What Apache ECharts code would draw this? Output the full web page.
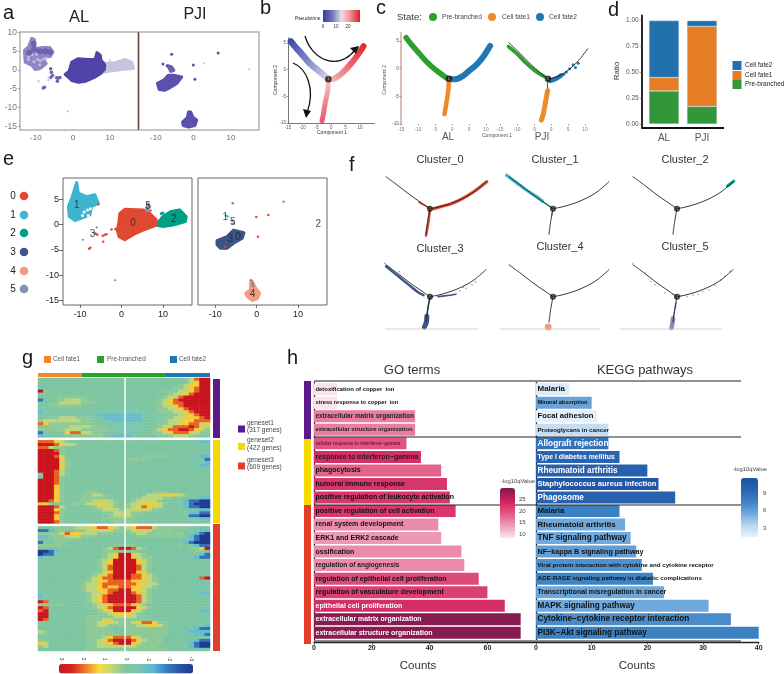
<!DOCTYPE html>
<html><head><meta charset="utf-8">
<style>html,body{margin:0;padding:0;background:#fff}#c{width:784px;height:674px}</style>
<script src="https://cdn.jsdelivr.net/npm/echarts@6/dist/echarts.min.js"></script>
</head><body><div id="c"></div>
<script>
// ---------- DATA ----------
const tickA=[-10,0,10], tickAy=[10,5,0,-5,-10,-15];
// a: UMAP regions
const alBlobCyan=[[-11.1,8.4],[-10.4,8.1],[-10.3,5.7],[-7.9,6],[-6.3,6],[-5.4,4.8],[-6.1,3.6],[-8.4,3.5],[-7.2,1.7],[-8.8,.4],[-10.2,.1],[-11.1,1.2],[-12.9,2.1],[-13.1,5.2],[-12,6.1]];
const alBlobMain=[[-.3,2.1],[1.5,3],[4.2,2.8],[6,2.8],[6.5,4.6],[7.4,3.9],[7.6,2.6],[8.6,1.4],[8.5,.1],[7.4,-1],[5.8,-2],[3.5,-3],[1.5,-3.3],[-.3,-2.8],[-2.1,-1.2],[-1,-.3]];
const alBlobLight=[[7.6,2],[9.6,1.7],[11.4,1.9],[14.1,2.8],[15.9,2.1],[16.4,.4],[13.7,.2],[10.1,-.3],[7.4,-.8]];
const alSpecks=[[-6,.3],[-5.5,-1.5],[-6,-2],[-4,-2.2],[-3.5,-2],[-4.2,-3],[-7.7,-4.6],[-8,-4.8],[-5.8,-.6],[-4.4,-2.1]];
const alFaint=[[-9.3,-3],[-6.5,-1.9],[-1.4,-11],[-6.6,-2.7],[10,2.5]];
const alHoles=[[-9.5,2.8],[-8.8,2.5],[-8,2.9],[-9,1.4],[-11,4],[-12,3.5],[-10.5,2.2],[-12,2.8],[-9.8,4.2],[-7.2,3.1]];
const alDark=[[-10.6,7],[-10.5,5.5],[-9,5],[-7.5,5],[-6.2,4.8],[-11.8,4.6]];
const pjiBlobA=[[-9.6,-3.6],[-8,-2.8],[-6.7,-1.4],[-5.3,-1.4],[-3.1,-1.9],[-4.4,-3.6],[-6.2,-4.7],[-7.6,-5.4],[-9.1,-5.2]];
const pjiBlobB=[[-6.8,1.1],[-5.8,.8],[-5.2,-.1],[-6,-.4]];
const pjiBlobC=[[-2.9,-13.9],[-1.6,-12.7],[-1.3,-11.2],[-.7,-11.2],[-.2,-12.5],[.9,-13.4],[.4,-14.8],[-1.3,-15.2],[-2.7,-14.8]];
const pjiSpecks=[[-5.8,4.2],[6.6,4.5],[0,1.3],[.4,-2.5],[-8.1,1.6],[-7,1.1]];
const pjiFaint=[[2.9,1.8],[14.9,.2]];
// b / c trajectories (Component 1, Component 2)
const bLeft=[[-14,5.3],[-12,4],[-10,2.8],[-8,1.5],[-6,.5],[-4,-.4],[-2,-1.3],[-1,-1.8]];
const bRight=[[-1,-1.8],[1,-1.7],[3,-1],[5,0],[7,1.2],[9,2.6],[10.5,3.8],[11.2,4.4]];
const bDown=[[-1,-1.8],[-1.2,-4],[-2,-6],[-2.6,-8],[-3.2,-9.6]];
const cNode=[[-.9,-1.8]];
const cGreenAL=[[-13.5,5.6],[-12,4.4],[-10,3],[-8,1.6],[-6,.4],[-4,-.6],[-2,-1.5],[-1,-1.9]];
const cBlueAL=[[-.5,-1.9],[1,-1.9],[3,-1.4],[5,-.4],[7,.6],[9,2],[10.5,3.4],[11.2,4.1]];
const cOrangeAL=[[-.9,-2],[-1.1,-4],[-1.6,-6],[-2,-7.5],[-2.2,-8.2]];
const cGreenPJI=[[-12.5,4],[-10,2.7],[-8,1.4],[-6,.3],[-4,-.7],[-2,-1.4]];
const cBluePJI=[[-.2,-2.2],[1.5,-1.8],[3,-1.2]];
const cBlueDots=[[4.5,-.6],[5.5,0],[6.5,.7],[8,1],[7.2,.2],[3.8,-1]];
const cOrangePJI=[[-1,-4],[-1.6,-6],[-2.2,-8],[-2.8,-9.3]];
const curvePJI=[[-12.4,4.7],[-9,2.7],[-6,.8],[-3,-.8],[-1,-1.8],[2,-1.4],[5,-.3],[8,1.4],[10.8,3.6]];
const curveDownPJI=[[-1,-1.8],[-1,-3.5]];
// d
const dCats=['AL','PJI'];
const dPre=[.32,.17], dFate1=[.13,.775], dFate2=[.55,.055];
// e
const tickE=[5,0,-5,-10,-15];
const eBlob1=[[-10.8,8.3],[-10.4,6.2],[-8.4,5.5],[-6.4,5.9],[-5.6,4.2],[-7.2,3.6],[-7.6,1.9],[-9.6,1.3],[-11.2,.8],[-12.6,1.6],[-12.8,3.6],[-12,5.2]];
const eBlob0=[[-.4,2.2],[.8,3],[5.2,2.9],[6.8,2.2],[8.4,.9],[8.4,-.1],[5.2,-1.1],[2.8,-2],[.8,-3],[-.6,-2.4],[-1,-1.1],[-.6,.6]];
const eBlob2=[[8.4,-.1],[10,1.6],[12,2.6],[14,2.9],[15.6,1.6],[15.4,.6],[12.4,-.1],[10,-.4]];
const eReds=[[-2.4,-1],[-1.5,-.9],[-4.5,-2.2],[-4,-2],[-3.6,-1.9],[-6.2,-1.8],[-5.8,-2],[-7.5,-4.6],[-7.8,-4.8],[-4.4,-3.4],[-5.6,4],[6,3.3],[7,2.8]];
const eBlueDots=[[-6,-.6],[-9.3,-3],[-1.5,-11],[-6.5,-1.6]];
const eFive=[[6.3,3.3],[6.4,4],[6.2,2.8],[6.6,3.5]];
const eHoles=[[-9,2.5],[-8.2,2.9],[-9.4,1.8],[-8,1.8],[-7.5,3.1]];
const eLeftLabels=[[-10.8,3.9,'1'],[2.8,.3,'0'],[12.6,1.1,'2'],[-7,-1.9,'3'],[6.4,3.6,'5']];
const eBlob3=[[-9.6,-3.2],[-7.2,-2.4],[-5.6,-1.1],[-3.1,-1.6],[-3.5,-2.7],[-5.6,-3.7],[-7.2,-4.7],[-8.8,-4.7],[-9.6,-4]];
const eBlob4=[[-2.7,-13.6],[-1.5,-12.9],[-1.5,-11.4],[-1.1,-11.2],[-.3,-12.5],[.7,-13.6],[.1,-14.7],[-1.1,-15],[-2.3,-14.2]];
const eRedsR=[[-.1,1.5],[2.8,1.9],[.3,-2.4],[-7.6,-4.4]];
const eBlueR=[[-5.8,4.2],[-5.8,.8],[-5.6,.2],[-1.4,-11],[-1,-11.6],[-.9,-12.1]];
const eCyanR=[[-7.5,1.8],[-7,1.6],[6.5,4.5]];
const eRightLabels=[[-7.6,1.5,'1'],[-5.8,.4,'5'],[-6.4,-3,'3'],[-4.5,-2.6,'0'],[-1,-13.8,'4'],[14.9,0,'2']];
// f
const fCurveLeft=[[-12,4.7],[-9,2.9],[-6,1],[-3,-.7],[-1,-1.8]];
const fCurveRight=[[-1,-1.8],[1,-1.5],[4,-.8],[7,.2],[10,1.6],[13,3.7]];
const fCurveDown=[[-1,-1.8],[-1.6,-4.5],[-2,-7]];
const f0a=[[0,-1.8],[2,-1.3],[4,-.9],[7,.2],[10,1.7],[13.2,3.7]];
const f0b=[[-3.8,-.5],[-2,-1.3],[-1,-1.8]];
const f0c=[[-1,-1.8],[-1.3,-4],[-1.6,-5.5],[-2,-7.3]];
const f1a=[[-12.6,5],[-10,3.4],[-7.5,1.9],[-5,.6],[-3.6,-.3]];
const f1b=[[-3.6,-.3],[-1,-1.8]];
const f1c=[[-1.2,-2.6],[-1.3,-3.2]];
const f2a=[[11.6,2.8],[12.4,3.3],[13.2,3.8]];
const f3a=[[-12,4.4],[-9,2.4],[-6.6,.8],[-4,-.9],[-2.6,-1.5]];
const f3b=[[1,-1.8],[3,-1.6],[5.5,-1.3]];
const f3c=[[-1,-2],[-1.5,-4],[-1.7,-5.6]];
const f3d=[[-1.8,-5.8],[-1.9,-7],[-2.4,-8]];
const f3e=[[6.5,-.6],[8,-.1],[9.5,.6],[10.4,1.2],[7.3,.1],[-12.3,5],[-10.5,3.4],[-8.7,3.3]];
const f4a=[[-2.2,-8]];
const f5a=[[-1.2,-3],[-1.6,-4.8],[-1.9,-6]];
const f5b=[[-2,-6.2],[-2.2,-7.5],[-2.4,-8.2]];
const f5c=[[-12,5],[-9,3],[-6.5,.6],[-4,-1],[-2,-1.3],[0,-1.7],[1.5,-1.8],[3,-1.5],[4.3,-1.3],[5.5,-.8],[7,-.4],[8.5,.5],[10,1.6],[11,2.4],[12.2,3.4],[-7.5,1.3],[-1.5,-3.8]];
// g: each character is a level, 16 columns left + 16 columns right
const levelValues=[-3,-2,-1,-.5,0,.15,.6,1.3,2,3];
const geneset1Rows=[
"4444444444444444 4444444444456899","4444444444444444 4444444444446799","3444444444444444 4444444444567799","4444444444444444 4444444445567899",
"9544444444444444 4444444555667899","4444444444444444 4444444456678999","4445555554444444 4444444566899999","1344566655444444 4444445678999999",
"4455666655544444 4444455678899999","4455555544444443 3444445667899999","3344444444444333 3344445566789999","2344444444433333 3333445556678999",
"3333444433322222 2223334455667899","4455666555332222 2223444556677789","5666666655443322 2223444566677888","8755555555544333 3334445566778867",
"4455556666554433 3333445668889876","5555566655555443 3334456788998765","1344478866554433 3334455678887655","2344455555554422 2344445556665544"];
const geneset2Rows=[
"8887654444444444 4444444444444322","9998766544444444 4444444444443333","8865544444444444 4444444444444444","9998544444444444 4444444444444443",
"9999544444444443 4444444444444433","9998644444444443 4445555544443322","9999754444444444 5555544444443331","9999654444444444 4444444444444332",
"9999754444444444 4444444444444422","9999654444444444 4444444444444444","9998644444444444 4444444444444444","4998654444444444 4444444444444444",
"4998544444444444 4444444444444444","9998544444444444 4444444444444444","9998544444444444 4444444444444444","9997544444444444 4444444444444444",
"9997544444444444 4444444444444444","9997544445544444 4444455544444444","9997544455665544 3445666777654443","9997544455555444 4456666554443322",
"9987544455666654 4566665444321100","7754445556677654 5667776544321000","9998644444566654 5678766444321100","9997544444556665 6666654444443322",
"9998544444445566 6555444444432211","9997544444444566 6544444444431100","9997544444445555 5544444444443322","9998544444444455 5444444444444444"];
const geneset3Rows=[
"4445555666788765 6788865555554444","1124544556666655 5666655554443322","5555687766655544 4566555555543210","2255566655544444 4455555555532100",
"4445555544444444 4444444444432100","1345544444444444 4444444444321000","5555554444444455 5544444444543211","4444444444445689 9865444444445579",
"0012444444445555 5544444444444554","0113444444445679 9765444444444321","2344444444445679 9765544444433211","4444444444456799 9976544444444433",
"3444444444456799 9976544444444444","4444444444456899 9986544444444444","4444444444456899 9986544444444444","3344444444556799 9976544444444444",
"4444444444567899 9887654444433344","4444444445678899 9887654444444389","3444444455677888 8776654444444333","4444444456678888 8877665444444433",
"4444444456678778 8776654444444333","4444444456677889 9776544444444333","3344444445667899 9876544444433322","2344444445678999 9986544444444433",
"4444444445678999 9986544444444444","9844444445678999 9986544444444444","5555544444566788 8765444444444444","9844444444567899 9976544444444433",
"8944444444456799 9765444444444422","9944444444455677 7654444444444443","9944444445555566 6655444444444443","9844444445556655 5555544444444433",
"4444444445567765 5678875544444444","4444444445566555 5566776544444332","4444444445555544 5555555544443211","6544444445555544 5555555544432222",
"5544444445555554 5555555544333221","4444444445556788 8765555444444433","5544444445567899 9876555444443211","7644444445566789 9765555444432100",
"5644444445566666 6655554444432100","4444444445555555 5555555544444333"];
// h
const goTerms=['detoxification of copper  ion','stress response to copper  ion','extracellular matrix organization','extracellular structure organization','cellular response to interferon−gamma','response to interferon−gamma','phagocytosis','humoral immune response','positive regulation of leukocyte activation','positive regulation of cell activation','renal system development','ERK1 and ERK2 cascade','ossification','regulation of angiogenesis','regulation of epithelial cell proliferation','regulation of vasculature development','epithelial cell proliferation','extracellular matrix organization','extracellular structure organization'];
const goCounts=[8,8,35,35,32,37,44,46,47,49,43,44,51,52,57,60,66,71.5,71.5];
const goQ=[8.6,8.5,16,16,19,23,18,22,22,22,15,14,15,15,20,21,23,29,29];
const goLabelSize=[5.9,5.7,6.4,5.8,4.6,7,7,7,6.95,7,7,7,7,6.6,7,7,7,6.9,7];
const goLabelColor=['#111','#111','#222','#222','#7b1040','#222','#111','#111','#111','#111','#111','#111','#111','#222','#111','#111','#fff','#fff','#fff'];
const keggTerms=['Malaria','Mineral absorption','Focal adhesion','Proteoglycans in cancer','Allograft rejection','Type I diabetes mellitus','Rheumatoid arthritis','Staphylococcus aureus infection','Phagosome','Malaria','Rheumatoid arthritis','TNF signaling pathway','NF−kappa B signaling pathway','Viral protein interaction with cytokine and cytokine receptor','AGE-RAGE signaling pathway in diabetic complications','Transcriptional misregulation in cancer','MAPK signaling pathway','Cytokine−cytokine receptor interaction','PI3K−Akt signaling pathway'];
const keggCounts=[6,10,11,13,13,15,20,22,25,15,16,17,18,19,21,23,31,35,40];
const keggQ=[2,5.8,1.7,3,8.5,9.5,10,11,9.8,7.6,5.5,5.4,6,6.7,7.4,5.6,5.5,7,7.5];
const keggLabelSize=[8,5.6,7.7,6.2,8.3,6.9,8.2,7.6,8.2,7.8,8,8.2,7.2,6.2,6.2,6.9,8.2,8.2,8.2];
const keggLabelColor=['#111','#111','#111','#111','#fff','#fff','#fff','#fff','#fff','#111','#111','#111','#111','#111','#111','#111','#111','#111','#111'];

// ---------- BUILD ----------
const FONT='"Liberation Sans",Arial,sans-serif';
const grid=[],xAxis=[],yAxis=[],series=[],graphic=[],visualMap=[];
const COL={pre:'#2ca02c',f1:'#ee8a2a',f2:'#1f77b4',c0:'#e0492f',c1:'#3fb4cf',c2:'#00a087',c3:'#3c5488',c4:'#f39b7f',c5:'#8491b4'};

function T(x,y,text,size,fill,align,rot,weight){graphic.push({type:'text',x,y,rotation:rot||0,silent:true,z:50,style:{text,fill:fill||'#222',font:(weight||'normal')+' '+size+'px '+FONT,textAlign:align||'left',textVerticalAlign:'middle'}});}
function R(x,y,w,h,fill,z){graphic.push({type:'rect',silent:true,z:z||50,shape:{x,y,width:w,height:h},style:{fill}});}
function Ln(x1,y1,x2,y2,c,w,z){graphic.push({type:'line',silent:true,z:z||40,shape:{x1,y1,x2,y2},style:{stroke:c,lineWidth:w}});}
function Dot(x,y,r,fill){graphic.push({type:'circle',silent:true,z:50,shape:{cx:x,cy:y,r},style:{fill}});}

function addGrid(l,t,w,h,xo,yo,gridOpt){
  const i=grid.length;
  grid.push(Object.assign({left:l,top:t,width:w,height:h,containLabel:false},gridOpt||{}));
  const mk=(o)=>Object.assign({gridIndex:i,type:'value',scale:true,splitLine:{show:false},axisLine:{show:false,onZero:false},axisTick:{show:false},axisLabel:{show:false}},o);
  xAxis.push(mk(xo)); yAxis.push(mk(yo));
  return i;
}
function ticks(vals,size,color,opts){
  opts=opts||{};
  return {axisTick:{show:opts.tick!==false,customValues:vals,length:opts.tl||2,lineStyle:{color:opts.tc||'#777',width:.7}},
    axisLabel:{show:true,customValues:vals,fontSize:size,color,fontFamily:FONT,margin:opts.m||3,hideOverlap:false,showMinLabel:true,showMaxLabel:true}};
}
function blob(g,pts,color,op){
  series.push({type:'custom',coordinateSystem:'cartesian2d',xAxisIndex:g,yAxisIndex:g,data:pts,encode:{x:0,y:1},silent:true,clip:false,z:2,
    renderItem(p,api){ if(p.dataIndex!==0) return null; return {type:'polygon',shape:{points:pts.map(q=>api.coord(q))},style:{fill:color,stroke:color,lineWidth:3,lineJoin:'round',opacity:op==null?1:op}}; }});
}
function dots(g,pts,color,size,op,z){
  series.push({type:'scatter',xAxisIndex:g,yAxisIndex:g,data:pts,symbolSize:size,silent:true,z:z||3,itemStyle:{color,opacity:op==null?1:op}});
}
function line(g,pts,color,w,z,opts){
  series.push(Object.assign({type:'line',xAxisIndex:g,yAxisIndex:g,data:pts,showSymbol:false,symbol:'none',smooth:.3,silent:true,z:z||3,lineStyle:{color,width:w,cap:'round',join:'round'}},opts||{}));
}
function node(g,pt,size){
  series.push({type:'scatter',xAxisIndex:g,yAxisIndex:g,data:pt,symbolSize:size,silent:true,z:6,itemStyle:{color:'#111'},
    label:{show:true,position:'inside',formatter:'1',fontSize:size*.62,color:'#ddd',fontFamily:FONT}});
}
function pointLabels(g,list){
  series.push({type:'scatter',xAxisIndex:g,yAxisIndex:g,data:list.map(d=>({value:[d[0],d[1]],name:d[2]})),symbolSize:0,silent:true,z:8,
    label:{show:true,position:'inside',formatter:p=>p.name,fontSize:10,color:'#222',fontFamily:FONT}});
}

// panel letters
[['a',3,13],['b',260,8],['c',376,8],['d',608,10],['e',3,159],['f',349,165],['g',22,358],['h',287,358]].forEach(d=>T(d[1],d[2],d[0],20,'#1a1a1a'));

// ---- a ----
const axc='#5d8089', frame={show:true,borderColor:'#b4b4b4',borderWidth:1.5};
const ga1=addGrid(20,32,118,98,Object.assign({min:-14.3,max:17.6},ticks(tickA,8,'#667',{tick:false,m:4})),Object.assign({min:-16,max:10.1},ticks(tickAy,8.5,axc,{tl:2,m:3})),frame);
const ga2=addGrid(139,32,120,98,Object.assign({min:-14.5,max:17.5},ticks(tickA,8,'#667',{tick:false,m:4})),{min:-16,max:10.1},frame);
blob(ga1,alBlobCyan,'#8f86c6'); blob(ga1,alBlobLight,'#c6c3df'); blob(ga1,alBlobMain,'#4f45a8');
dots(ga1,alHoles,'#c8c4e4',3,.9); dots(ga1,alSpecks,'#6a60b4',3.5); dots(ga1,alFaint,'#cfcce4',2.5);
dots(ga1,alDark,'#5d52ad',6,.7);
blob(ga2,pjiBlobA,'#5a50ae'); blob(ga2,pjiBlobB,'#6a60b4'); blob(ga2,pjiBlobC,'#5a50ae');
dots(ga2,pjiSpecks,'#5a50ae',3); dots(ga2,pjiFaint,'#d6d3e8',2.5);
Ln(138.5,32,138.5,130,'#6b4a3c',1,60);
T(79,17,'AL',16.5,'#222','center'); T(195,15,'PJI',16,'#222','center');

// ---- b ----
const gb=addGrid(288,37.7,86.4,85.3,
  Object.assign({min:-15,max:15,axisLine:{show:true,onZero:false,lineStyle:{color:'#555',width:.8}}},ticks([-15,-10,-5,0,5,10],4.5,'#555',{tl:1.5,m:2})),
  Object.assign({min:-10,max:6,axisLine:{show:true,onZero:false,lineStyle:{color:'#555',width:.8}}},ticks([5,0,-5,-10],4.5,'#555',{tl:1.5,m:2})));
const lg=(x1,y1,x2,y2,stops)=>({type:'linear',x:x1,y:y1,x2,y2,colorStops:stops});
line(gb,bLeft,'',6.5,3,{lineStyle:{color:lg(0,0,1,1,[{offset:0,color:'#3346a8'},{offset:.45,color:'#7a80c4'},{offset:1,color:'#e7e4f0'}]),width:6.5,cap:'round'}});
line(gb,bRight,'',6,3,{lineStyle:{color:lg(0,1,1,0,[{offset:0,color:'#f3c9d0'},{offset:.5,color:'#ee6b75'},{offset:1,color:'#dc1f26'}]),width:6,cap:'round'}});
line(gb,bDown,'',5,3,{lineStyle:{color:lg(0,0,0,1,[{offset:0,color:'#f7d5da'},{offset:.5,color:'#f08a92'},{offset:1,color:'#e8596a'}]),width:5,cap:'round'}});
node(gb,[[-1,-1.8]],6.5);
T(295,19,'Pseudotime',4.8,'#222'); 
graphic.push({type:'rect',silent:true,z:50,shape:{x:323,y:10,width:37,height:12},style:{fill:lg(0,0,1,0,[{offset:0,color:'#2f3ea3'},{offset:.25,color:'#6f74bd'},{offset:.5,color:'#e6dfec'},{offset:.7,color:'#f19aa4'},{offset:1,color:'#dc1f26'}])}});
T(323,26.5,'0',4.5,'#333','center');T(336,26.5,'10',4.5,'#333','center');T(348,26.5,'20',4.5,'#333','center');
T(276,80,'Component 2',5,'#333','center',Math.PI/2);T(332,133,'Component 1',5,'#333','center');
graphic.push({type:'bezierCurve',silent:true,z:45,shape:{x1:305,y1:36,cpx1:312,cpy1:60,cpx2:338,cpy2:72,x2:356,y2:49},style:{stroke:'#111',lineWidth:1.3,fill:null}});
graphic.push({type:'polygon',silent:true,z:45,shape:{points:[[359,46],[350,48],[356,54]]},style:{fill:'#111'}});
graphic.push({type:'bezierCurve',silent:true,z:45,shape:{x1:293,y1:63,cpx1:306,cpy1:68,cpx2:316,cpy2:88,x2:307,y2:113},style:{stroke:'#111',lineWidth:1.3,fill:null}});
graphic.push({type:'polygon',silent:true,z:45,shape:{points:[[306,118],[303,109],[311,111]]},style:{fill:'#111'}});

// ---- c ----
const ct=[-15,-10,-5,0,5,10], cy=[5,0,-5,-10];
const gc1=addGrid(401,32.7,98.6,91.3,
  Object.assign({min:-15,max:14},ticks(ct,4.8,'#5a8a8f',{tl:1.5,m:3})),
  Object.assign({min:-10,max:6.5,axisLine:{show:true,onZero:false,lineStyle:{color:'#c9ab9c',width:1.5}}},ticks(cy,4.8,'#556',{tl:1.5,m:2})));
const gc2=addGrid(500,32.7,98.6,91.3,Object.assign({min:-15,max:14},ticks(ct,4.8,'#5a8a8f',{tl:1.5,m:3})),{min:-10,max:6.5});
line(gc1,cGreenAL,COL.pre,5.5); line(gc1,cBlueAL,COL.f2,6); line(gc1,cOrangeAL,COL.f1,4.5); node(gc1,cNode,6.5);
line(gc2,curvePJI,'#222',.9,4); line(gc2,curveDownPJI,'#222',.9,4);
line(gc2,cGreenPJI,COL.pre,3.6,3); line(gc2,cBluePJI,COL.f2,4.5,3); dots(gc2,cBlueDots,COL.f2,3); line(gc2,cOrangePJI,COL.f1,5,3);
node(gc2,cNode,6.5);
T(397,17,'State:',9.5,'#333');Dot(433,17,4,COL.pre);T(442,17.5,'Pre-branched',6.6,'#444');Dot(492,17,4,COL.f1);T(502,17.5,'Cell fate1',6.6,'#444');Dot(540,17,4,COL.f2);T(549,17.5,'Cell fate2',6.6,'#444');
T(385,80,'Component 2',5,'#555','center',Math.PI/2);T(497,135.5,'Component 1',5,'#555','center');
T(448,137,'AL',10,'#555','center');T(542,137,'PJI',10,'#555','center');

// ---- d ----
const gd=addGrid(645,15.5,76,112.5,
  {type:'category',data:dCats,scale:false,axisLine:{show:false},axisTick:{show:false},axisLabel:{show:true,fontSize:10,color:'#555',fontFamily:FONT,margin:5}},
  Object.assign({min:-.0387,max:1.05,offset:3.3,axisLine:{show:true,onZero:false,lineStyle:{color:'#111',width:1.8}}},ticks([0,.25,.5,.75,1],6.5,'#555',{tl:2,m:3})));
yAxis[gd].axisLabel.formatter=v=>(+v).toFixed(2);
[['Pre-branched',dPre,'#33963a'],['Cell fate1',dFate1,'#e57d25'],['Cell fate2',dFate2,'#2271ad']].forEach(s=>{
  series.push({type:'bar',name:s[0],stack:'d',xAxisIndex:gd,yAxisIndex:gd,data:s[1],barWidth:30,itemStyle:{color:s[2],borderColor:'#cfe0ee',borderWidth:.4},silent:true});
});
Ln(641.7,128,724,128,'#111',1.8);
[['Cell fate2','#2271ad',61],['Cell fate1','#e57d25',71],['Pre-branched','#33963a',80]].forEach(d=>{R(732.5,d[2],9,9,d[1]);T(745,d[2]+4.5,d[0],6.5,'#222');});
T(617,71,'Ratio',8,'#333','center',Math.PI/2);

// ---- e ----
const ef={show:true,borderColor:'#666',borderWidth:1};
const ge1=addGrid(63,178,129,127,
  Object.assign({min:-14.1,max:17},ticks(tickA,9,'#222',{tc:'#333',m:5,tl:3})),
  Object.assign({min:-15.9,max:9.2},ticks(tickE,9,'#222',{tc:'#333',m:4,tl:4})),ef);
const ge2=addGrid(198,178,129,127,
  Object.assign({min:-14.2,max:17},ticks(tickA,9,'#222',{tc:'#333',m:5,tl:3})),{min:-15.9,max:9.2},ef);
blob(ge1,eBlob1,COL.c1); blob(ge1,eBlob2,COL.c2); blob(ge1,eBlob0,COL.c0);
dots(ge1,eHoles,'#fff',3); dots(ge1,eReds,COL.c0,2.5); dots(ge1,eBlueDots,'#5b76a8',2); dots(ge1,eFive,COL.c5,4); dots(ge1,[[9.6,2.2],[10,2.3]],COL.c2,3);
pointLabels(ge1,eLeftLabels);
blob(ge2,eBlob3,COL.c3); blob(ge2,eBlob4,COL.c4);
dots(ge2,eRedsR,COL.c0,2.5); dots(ge2,eBlueR,'#6b82b4',2.5); dots(ge2,eCyanR,COL.c1,2.5); 
pointLabels(ge2,eRightLabels);
[['0',COL.c0,196],['1',COL.c1,215],['2',COL.c2,233],['3',COL.c3,252],['4',COL.c4,271],['5',COL.c5,289]].forEach(d=>{T(13,d[2],d[0],10,'#222','center');Dot(24,d[2],4.3,d[1]);});

// ---- f ----
const nodesF=[[430,207],[553,207],[677,207],[430,295],[553,295],[677,295]];
const titlesF=[['Cluster_0',440,160],['Cluster_1',555,160],['Cluster_2',685,160],['Cluster_3',440,249],['Cluster_4',560,247],['Cluster_5',685,247]];
const gf=nodesF.map(n=>{
  const g=addGrid(n[0]-48,n[1]-38.2,120,80,{min:-13,max:17},{min:-10,max:6.33});
  line(g,fCurveLeft,'#222',.9,4); line(g,fCurveRight,'#222',.9,4); line(g,fCurveDown,'#222',.9,4);
  node(g,[[-1,-1.8]],6);
  return g;
});
titlesF.forEach(t=>T(t[1],t[2],t[0],11,'#333','center'));
line(gf[0],f0a,COL.c0,3.2,3); line(gf[0],f0b,COL.c0,1.5,3); line(gf[0],f0c,COL.c0,2.6,3);
line(gf[1],f1a,COL.c1,3.2,3); line(gf[1],f1b,COL.c1,1.5,3); line(gf[1],f1c,COL.c1,1.5,3);
line(gf[2],f2a,COL.c2,3,3);
line(gf[3],f3a,COL.c3,2.4,3); line(gf[3],f3b,COL.c3,1.6,3); line(gf[3],f3c,COL.c3,1.6,3); line(gf[3],f3d,COL.c3,5,3); dots(gf[3],f3e,COL.c3,1.5,.7);
dots(gf[4],f4a,COL.c4,7);
line(gf[5],f5a,COL.c5,1.4,3); line(gf[5],f5b,COL.c5,4.5,3); dots(gf[5],f5c,COL.c5,1.6,.8);
[[385,478],[500,600],[620,722]].forEach(d=>Ln(d[0],329,d[1],329,'#c8c8c8',.8));

// ---- g ----
const allRows=[...geneset1Rows,null,...geneset2Rows,null,...geneset3Rows];
const rowIdx=allRows.map((_,i)=>String(i));
function heatData(from){
  const out=[];
  allRows.forEach((r,i)=>{ if(!r) return; const s=r.replace(/ /g,''); for(let c=0;c<16;c++) out.push([c,i,levelValues[+s[from+c]]]); });
  return out;
}
const colIdx=Array.from({length:16},(_,i)=>String(i));
const catOff=(d,inv)=>({type:'category',data:d,inverse:!!inv,scale:false,axisLine:{show:false},axisTick:{show:false},axisLabel:{show:false}});
const gg1=addGrid(38,378,86,273,catOff(colIdx),catOff(rowIdx,true));
const gg2=addGrid(126,378,84,273,catOff(colIdx),catOff(rowIdx,true));
const heatStart=series.length;
series.push({type:'heatmap',xAxisIndex:gg1,yAxisIndex:gg1,data:heatData(0),silent:true,progressive:0,emphasis:{disabled:true}});
series.push({type:'heatmap',xAxisIndex:gg2,yAxisIndex:gg2,data:heatData(16),silent:true,progressive:0,emphasis:{disabled:true}});
visualMap.push({type:'continuous',seriesIndex:[heatStart,heatStart+1],min:-3,max:3,orient:'horizontal',inverse:true,left:59,top:664,padding:0,itemWidth:9.5,itemHeight:134,calculable:false,showLabel:false,hoverLink:false,
  inRange:{color:['#1f3b8f','#2a55a8','#3a7fc4','#5cb8d8','#79c6b0','#7ec6a2','#bcd77a','#f5dc3c','#f07f24','#d9261f','#c9151e']}});
[[61,'3'],[83,'2'],[104,'1'],[126,'0'],[148,'-1'],[169,'-2'],[191,'-3']].forEach(d=>T(d[0],659,d[1],4.8,'#333','center',-Math.PI/2));
R(38,373,44,4,'#ee8a2a');R(82,373,84,4,'#2ca02c');R(166,373,44,4,'#1f77b4');
R(44,356,7,7,'#ee8a2a');T(53,359.5,'Cell fate1',6.4,'#555');R(97,356,7,7,'#2ca02c');T(107,359.5,'Pre-branched',6.4,'#555');R(170,356,7,7,'#1f77b4');T(179,359.5,'Cell fate2',6.4,'#555');
R(213,379,7,59,'#5a1a8c');R(213,440,7,83,'#f7d900');R(213,524,7,127,'#e63c2a');
[['geneset1','(317 genes)',425.5,'#5a1a8c'],['geneset2','(422 genes)',443,'#f7d900'],['geneset3','(609 genes)',462.5,'#e63c2a']].forEach(d=>{R(238,d[2],7,7,d[3]);T(247,d[2]-2.5,d[0],6.5,'#444');T(247,d[2]+5,d[1],6.5,'#444');});

// ---- h ----
function barPanel(left,width,max,names,counts,q,sizes,colors,tv){
  const g=addGrid(left,382.5,width,257,
    Object.assign({min:0,max,offset:3},ticks(tv,7,'#222',{tc:'#222',m:2,tl:2})),
    {type:'category',data:names.map((_,i)=>String(i)),inverse:true,scale:false,axisLine:{show:true,lineStyle:{color:'#222',width:1.3}},axisTick:{show:false},axisLabel:{show:false}});
  xAxis[g].axisLabel.fontWeight='bold';
  xAxis[g].axisLine={show:true,onZero:false,lineStyle:{color:'#222',width:1.3}};
  const si=series.length;
  series.push({type:'bar',xAxisIndex:g,yAxisIndex:g,barWidth:12,silent:true,z:3,encode:{x:0,y:1},
    data:names.map((n,i)=>({value:[counts[i],i,q[i]],label:{show:true,position:'insideLeft',distance:1.5,formatter:n,fontSize:sizes[i],fontWeight:'bold',color:colors[i],fontFamily:FONT}})),
    labelLayout:{hideOverlap:false}});
  return si;
}
const sGo=barPanel(314,221.7,76.7,goTerms,goCounts,goQ,goLabelSize,goLabelColor,[0,20,40,60]);
const sKe=barPanel(536,222.7,40,keggTerms,keggCounts,keggQ,keggLabelSize,keggLabelColor,[0,10,20,30,40]);
visualMap.push({type:'continuous',seriesIndex:sGo,dimension:2,min:8.3,max:29.8,left:500,top:488,padding:0,itemWidth:15,itemHeight:50,calculable:false,showLabel:false,hoverLink:false,z:30,
  inRange:{color:['#fbe6ee','#ee9db9','#e0557f','#cf1f5f','#7b1c4f']}});
visualMap.push({type:'continuous',seriesIndex:sKe,dimension:2,min:1.5,max:11.5,left:741,top:478,padding:0,itemWidth:17,itemHeight:59,calculable:false,showLabel:false,hoverLink:false,z:30,
  inRange:{color:['#e8f2fb','#b8d6f0','#6ea8dc','#3c82c2','#2a64b0','#1f52a2']}});
[[499,'25'],[511,'20'],[522,'15'],[534,'10']].forEach(d=>T(519,d[0],d[1],6,'#444'));
[[493,'9'],[510,'6'],[528,'3']].forEach(d=>T(763,d[0],d[1],6,'#444'));
T(518,481.5,'-log10qValue',5.8,'#444','center');T(750,469,'-log10qValue',5.8,'#444','center');
[381,437,505,641].forEach(y=>Ln(314,y,741,y,'#222',1.1,20));
R(304,381,7,58,'#5a1a8c');R(304,439,7,66,'#f7d900');R(304,505,7,139,'#e63c2a');
T(412,370,'GO terms',13,'#333','center');T(645,370,'KEGG pathways',13,'#333','center');
T(418,666,'Counts',11.5,'#333','center');T(637,666,'Counts',11.5,'#333','center');

const chart=echarts.init(document.getElementById('c'),null,{renderer:'canvas'});
chart.setOption({animation:false,backgroundColor:'#fff',textStyle:{fontFamily:FONT},tooltip:{show:false},grid,xAxis,yAxis,series,visualMap,graphic:{elements:graphic}});
</script></body></html>
